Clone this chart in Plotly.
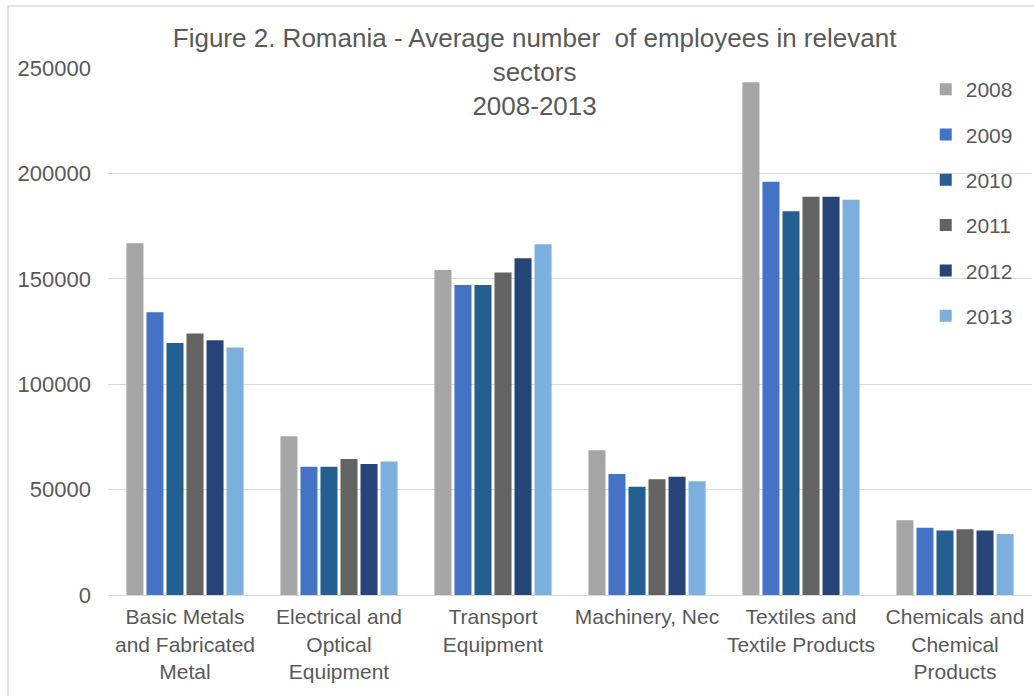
import plotly.graph_objects as go

categories = [
    "Basic Metals<br>and Fabricated<br>Metal",
    "Electrical and<br>Optical<br>Equipment",
    "Transport<br>Equipment",
    "Machinery, Nec",
    "Textiles and<br>Textile Products",
    "Chemicals and<br>Chemical<br>Products",
]
years = ["2008", "2009", "2010", "2011", "2012", "2013"]

v2008 = [166900, 75300, 154200, 68700, 243200, 35500]
v2009 = [134100, 60800, 147000, 57400, 196000, 31900]
v2010 = [119600, 60800, 147000, 51400, 182100, 30600]
v2011 = [124000, 64500, 153000, 54900, 188900, 31200]
v2012 = [120800, 62200, 159800, 56100, 188900, 30600]
v2013 = [117400, 63300, 166400, 54000, 187500, 28900]
series = [v2008, v2009, v2010, v2011, v2012, v2013]

colors = ["#A5A5A5", "#4472C4", "#255E91", "#636363", "#264478", "#7CAFDD"]

fig = go.Figure()
for yr, vals, col in zip(years, series, colors):
    fig.add_trace(go.Bar(
        x=categories, y=vals, name=yr, legendgroup=yr,
        marker=dict(color=col, line=dict(width=0)),
    ))

fnt = "Liberation Sans, Arial, sans-serif"
txt = "#595959"

fig.update_layout(
    width=1034, height=696,
    margin=dict(l=108, r=2, t=68, b=101),
    paper_bgcolor="white", plot_bgcolor="white",
    barmode="group", bargap=0.22, bargroupgap=0.15,
    font=dict(family=fnt, size=21, color=txt),
    title=dict(
        text="Figure 2. Romania - Average number  of employees in relevant<br>sectors<br>2008-2013",
        x=0.517, xanchor="center", xref="container",
        y=1 - 47 / 696, yanchor="top", yref="container",
        font=dict(family=fnt, size=26, color=txt),
    ),
    legend=dict(
        x=0.885, xanchor="left", y=0.998, yanchor="top",
        font=dict(family=fnt, size=21, color=txt),
        tracegroupgap=15, bgcolor="rgba(0,0,0,0)",
    ),
    showlegend=True,
)
fig.update_yaxes(
    range=[0, 250000], dtick=50000, showgrid=True, gridcolor="#D9D9D9",
    gridwidth=1, zeroline=False, showline=False, ticks="",
    tickfont=dict(family=fnt, size=22, color=txt), ticklabelstandoff=16,
    tickformat="d",
)
fig.update_xaxes(
    showline=True, linecolor="#D9D9D9", linewidth=1, ticks="",
    tickfont=dict(family=fnt, size=21, color=txt), tickangle=0,
    ticklabelstandoff=3,
)
fig.add_shape(
    type="rect", xref="paper", yref="paper",
    x0=-100 / 924, x1=1.2, y0=-0.3, y1=1 + 62 / 527,
    line=dict(color="#D9D9D9", width=1.5), fillcolor="rgba(0,0,0,0)",
    layer="below",
)

fig.write_html("out.html")
